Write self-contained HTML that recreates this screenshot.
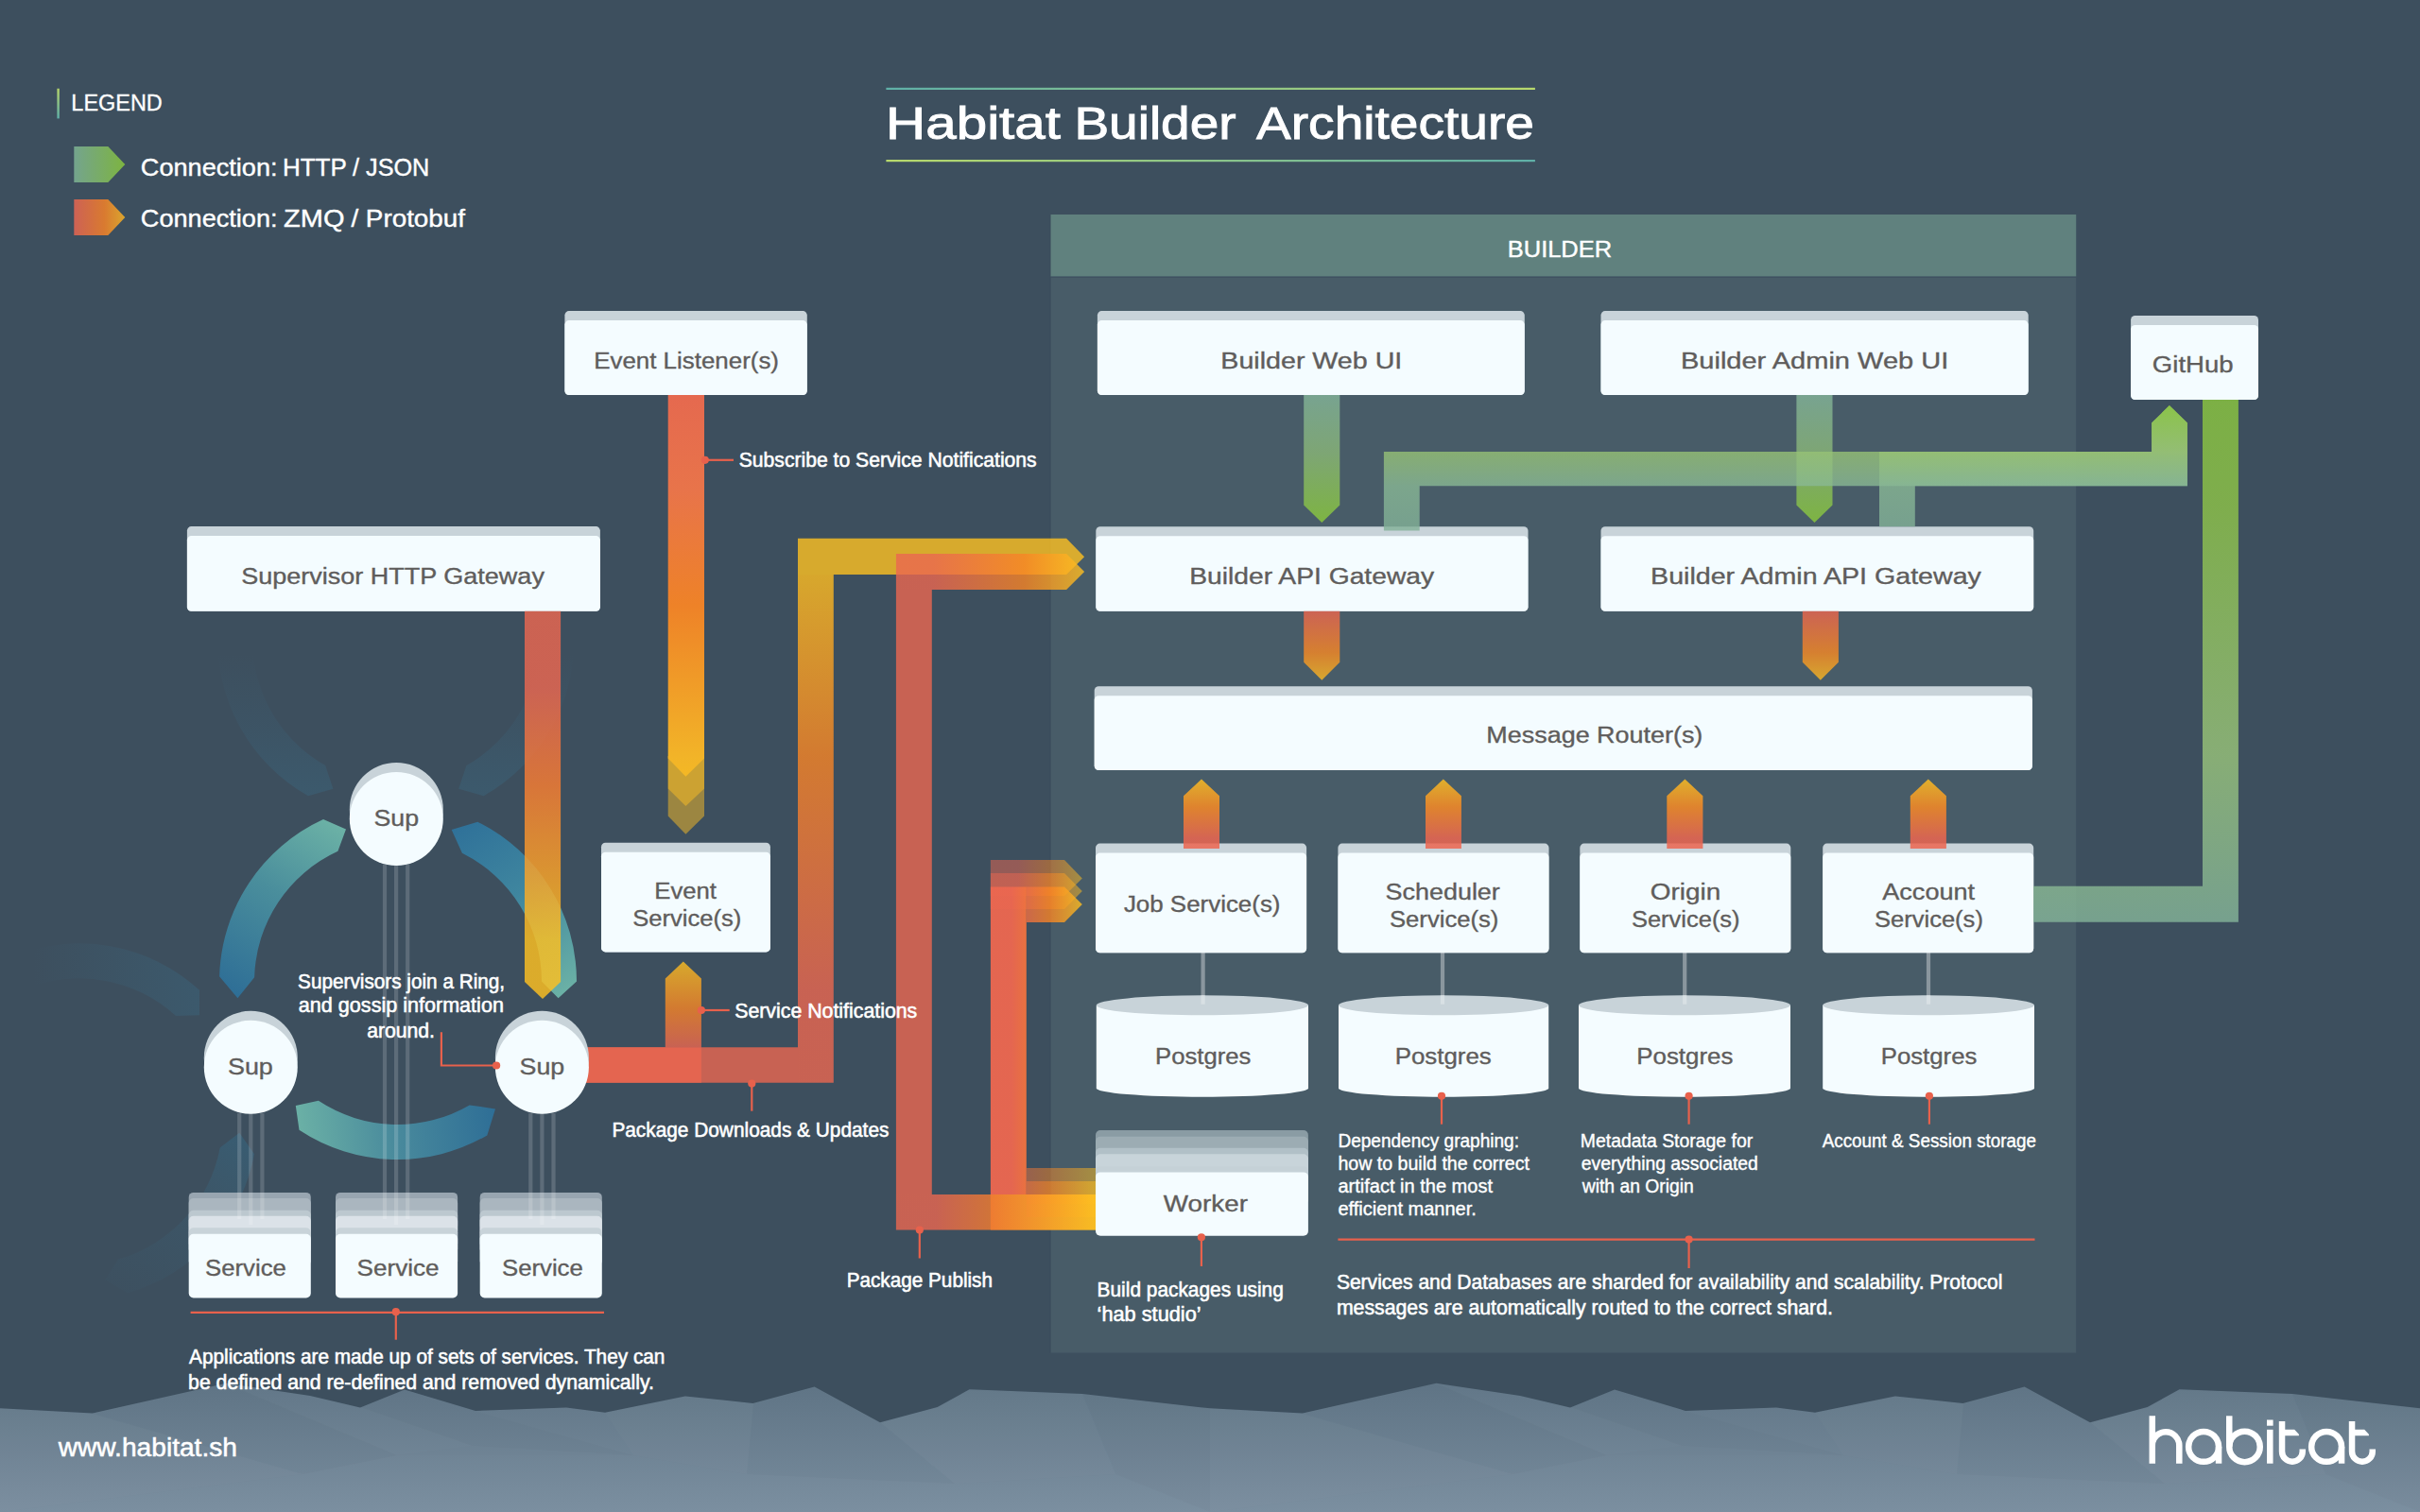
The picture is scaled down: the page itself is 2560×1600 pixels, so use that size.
<!DOCTYPE html>
<html><head><meta charset="utf-8"><title>Habitat Builder Architecture</title>
<style>html,body{margin:0;padding:0;background:#3d4f5e;}svg{display:block}</style></head>
<body>
<svg width="2560" height="1600" viewBox="0 0 2560 1600" font-family="Liberation Sans, sans-serif">
<defs>
<linearGradient id="gLegG" gradientUnits="userSpaceOnUse" x1="78" y1="0" x2="132" y2="0"><stop offset="0" stop-color="#74a48e"/><stop offset="1" stop-color="#7db441"/></linearGradient>
<linearGradient id="gLegO" gradientUnits="userSpaceOnUse" x1="78" y1="0" x2="132" y2="0"><stop offset="0" stop-color="#cd6155"/><stop offset="0.6" stop-color="#d97a30"/><stop offset="1" stop-color="#dba52e"/></linearGradient>
<linearGradient id="gBar" gradientUnits="userSpaceOnUse" x1="0" y1="94" x2="0" y2="125"><stop offset="0" stop-color="#b5d56a"/><stop offset="1" stop-color="#5fb0a8"/></linearGradient>
<linearGradient id="gT1" gradientUnits="userSpaceOnUse" x1="937" y1="0" x2="1624" y2="0"><stop offset="0" stop-color="#5fb0a8"/><stop offset="1" stop-color="#b8d96c"/></linearGradient>
<linearGradient id="gT2" gradientUnits="userSpaceOnUse" x1="937" y1="0" x2="1624" y2="0"><stop offset="0" stop-color="#b8d96c"/><stop offset="1" stop-color="#5fb0a8"/></linearGradient>
<linearGradient id="gMtn" gradientUnits="userSpaceOnUse" x1="0" y1="1465" x2="0" y2="1600"><stop offset="0" stop-color="#617687"/><stop offset="1" stop-color="#7a8e9f"/></linearGradient>
<linearGradient id="gA" gradientUnits="userSpaceOnUse" x1="0" y1="418" x2="0" y2="822"><stop offset="0" stop-color="#e5694f"/><stop offset="0.25" stop-color="#e8744a"/><stop offset="0.55" stop-color="#ee8228"/><stop offset="0.95" stop-color="#f2b428"/><stop offset="1" stop-color="#f4b824"/></linearGradient>
<linearGradient id="gB" gradientUnits="userSpaceOnUse" x1="0" y1="647" x2="0" y2="1057"><stop offset="0" stop-color="#eb6750"/><stop offset="0.2" stop-color="#eb6750"/><stop offset="0.45" stop-color="#fa7e31"/><stop offset="0.85" stop-color="#fec020"/><stop offset="1" stop-color="#fec020"/></linearGradient>
<linearGradient id="gCv" gradientUnits="userSpaceOnUse" x1="0" y1="1146" x2="0" y2="570"><stop offset="0" stop-color="#eb6750"/><stop offset="0.17" stop-color="#eb6750"/><stop offset="0.6" stop-color="#f88525"/><stop offset="0.95" stop-color="#fec020"/><stop offset="1" stop-color="#fec020"/></linearGradient>
<linearGradient id="gD" gradientUnits="userSpaceOnUse" x1="0" y1="1108" x2="0" y2="1017"><stop offset="0" stop-color="#eb6750"/><stop offset="0.45" stop-color="#f88525"/><stop offset="1" stop-color="#fec020"/></linearGradient>
<linearGradient id="gEb" gradientUnits="userSpaceOnUse" x1="948" y1="0" x2="1159" y2="0"><stop offset="0" stop-color="#eb6750"/><stop offset="0.2" stop-color="#eb6750"/><stop offset="0.47" stop-color="#f57d30"/><stop offset="1" stop-color="#fec020"/></linearGradient>
<linearGradient id="gF" gradientUnits="userSpaceOnUse" x1="1048" y1="0" x2="1159" y2="0"><stop offset="0" stop-color="#eb6750"/><stop offset="0.2" stop-color="#eb6750"/><stop offset="0.55" stop-color="#f88525"/><stop offset="1" stop-color="#fec020"/></linearGradient>
<linearGradient id="gEt" gradientUnits="userSpaceOnUse" x1="948" y1="0" x2="1147" y2="0"><stop offset="0" stop-color="#eb6750"/><stop offset="0.2" stop-color="#eb6750"/><stop offset="0.68" stop-color="#f88525"/><stop offset="1" stop-color="#fec020"/></linearGradient>
<linearGradient id="gFt" gradientUnits="userSpaceOnUse" x1="1048" y1="0" x2="1145" y2="0"><stop offset="0" stop-color="#eb6750"/><stop offset="0.3" stop-color="#eb6750"/><stop offset="0.65" stop-color="#f88525"/><stop offset="1" stop-color="#fec020"/></linearGradient>
<linearGradient id="gG" gradientUnits="userSpaceOnUse" x1="0" y1="418" x2="0" y2="553"><stop offset="0" stop-color="#84b59a"/><stop offset="0.45" stop-color="#8bb878"/><stop offset="1" stop-color="#8bca39"/></linearGradient>
<linearGradient id="gI" gradientUnits="userSpaceOnUse" x1="0" y1="429" x2="0" y2="561"><stop offset="0" stop-color="#8ec849"/><stop offset="0.37" stop-color="#97c275"/><stop offset="0.645" stop-color="#89b895"/><stop offset="1" stop-color="#82b198"/></linearGradient>
<linearGradient id="gK" gradientUnits="userSpaceOnUse" x1="0" y1="423" x2="0" y2="976"><stop offset="0" stop-color="#8cc83f"/><stop offset="0.2" stop-color="#8fc548"/><stop offset="0.68" stop-color="#9ac57b"/><stop offset="1" stop-color="#85b59a"/></linearGradient>
<linearGradient id="gL" gradientUnits="userSpaceOnUse" x1="0" y1="647" x2="0" y2="720"><stop offset="0" stop-color="#ed654f"/><stop offset="0.6" stop-color="#f98922"/><stop offset="1" stop-color="#fbbb22"/></linearGradient>
<linearGradient id="gN" gradientUnits="userSpaceOnUse" x1="0" y1="825" x2="0" y2="898"><stop offset="0" stop-color="#fbbd22"/><stop offset="0.4" stop-color="#f98a24"/><stop offset="0.85" stop-color="#ed6650"/><stop offset="1" stop-color="#ed6650"/></linearGradient>
<linearGradient id="gRL" gradientUnits="userSpaceOnUse" x1="366" y1="877" x2="252" y2="1056"><stop offset="0" stop-color="#6cb2a6"/><stop offset="0.45" stop-color="#4a8e9c"/><stop offset="1" stop-color="#2e6e96"/></linearGradient>
<linearGradient id="gRR" gradientUnits="userSpaceOnUse" x1="477" y1="878" x2="592" y2="1057"><stop offset="0" stop-color="#2f7199"/><stop offset="0.45" stop-color="#3f869f"/><stop offset="1" stop-color="#6cb2a6"/></linearGradient>
<linearGradient id="gRB" gradientUnits="userSpaceOnUse" x1="312" y1="1200" x2="525" y2="1175"><stop offset="0" stop-color="#6cb2a6"/><stop offset="0.5" stop-color="#48899c"/><stop offset="1" stop-color="#2e6e96"/></linearGradient>
<linearGradient id="gGh1" gradientUnits="userSpaceOnUse" x1="0" y1="692" x2="0" y2="845"><stop offset="0" stop-color="#3a6982" stop-opacity="0"/><stop offset="0.5" stop-color="#3a6982" stop-opacity="0.18"/><stop offset="1" stop-color="#3a6982" stop-opacity="0.42"/></linearGradient>
<linearGradient id="gGh2" gradientUnits="userSpaceOnUse" x1="35" y1="0" x2="212" y2="0"><stop offset="0" stop-color="#3a6982" stop-opacity="0"/><stop offset="0.5" stop-color="#3a6982" stop-opacity="0.2"/><stop offset="1" stop-color="#3a6982" stop-opacity="0.4"/></linearGradient>
<linearGradient id="gGh3" gradientUnits="userSpaceOnUse" x1="255" y1="1200" x2="130" y2="1370"><stop offset="0" stop-color="#346a86" stop-opacity="0.5"/><stop offset="0.4" stop-color="#3a6982" stop-opacity="0.25"/><stop offset="1" stop-color="#3a6982" stop-opacity="0.05"/></linearGradient>
</defs>
<rect width="2560" height="1600" fill="#3d4f5e"/>
<path d="M0,1600 L0.0,1490.3 L97.9,1495.6 L239.4,1463.8 L328.0,1477.0 L381.0,1489.4 L428.0,1470.5 L503.0,1493.0 L599.0,1489.6 L640.0,1494.8 L724.8,1477.4 L796.5,1485.0 L861.6,1467.6 L931.0,1505.3 L991.6,1489.0 L1025.5,1470.3 L1145.0,1475.0 L1280.0,1490.3 L1377.9,1495.6 L1519.4,1463.8 L1608.0,1477.0 L1661.0,1489.4 L1708.0,1470.5 L1783.0,1493.0 L1879.0,1489.6 L1920.0,1494.8 L2004.8,1477.4 L2076.5,1485.0 L2141.6,1467.6 L2211.0,1505.3 L2271.6,1489.0 L2305.5,1470.3 L2425.0,1475.0 L2560.0,1490.3 L2560,1600 Z" fill="url(#gMtn)"/>
<polygon points="0,1490 98,1496 320,1560 0,1600" fill="#fff" fill-opacity="0.014"/>
<polygon points="1280,1490 1378,1496 1600,1560 1280,1600" fill="#fff" fill-opacity="0.014"/>
<polygon points="98,1496 239,1464 420,1540 320,1560" fill="#000" fill-opacity="0.012"/>
<polygon points="1378,1496 1519,1464 1700,1540 1600,1560" fill="#000" fill-opacity="0.012"/>
<polygon points="239,1464 328,1477 381,1489 500,1530 420,1540" fill="#fff" fill-opacity="0.012"/>
<polygon points="1519,1464 1608,1477 1661,1489 1780,1530 1700,1540" fill="#fff" fill-opacity="0.012"/>
<polygon points="428,1470 503,1493 670,1540 500,1530 381,1489" fill="#000" fill-opacity="0.010"/>
<polygon points="1708,1470 1783,1493 1950,1540 1780,1530 1661,1489" fill="#000" fill-opacity="0.010"/>
<polygon points="640,1495 725,1477 797,1485 790,1560 670,1540" fill="#fff" fill-opacity="0.016"/>
<polygon points="1920,1495 2005,1477 2077,1485 2070,1560 1950,1540" fill="#fff" fill-opacity="0.016"/>
<polygon points="797,1485 862,1468 931,1505 1010,1570 790,1560" fill="#000" fill-opacity="0.012"/>
<polygon points="2077,1485 2142,1468 2211,1505 2290,1570 2070,1560" fill="#000" fill-opacity="0.012"/>
<polygon points="931,1505 992,1489 1026,1470 1145,1475 1180,1560 1010,1570" fill="#fff" fill-opacity="0.014"/>
<polygon points="2211,1505 2272,1489 2306,1470 2425,1475 2460,1560 2290,1570" fill="#fff" fill-opacity="0.014"/>
<polygon points="1145,1475 1280,1490 1280,1600 1180,1560" fill="#000" fill-opacity="0.008"/>
<polygon points="2425,1475 2560,1490 2560,1600 2460,1560" fill="#000" fill-opacity="0.008"/>
<polygon points="0,1600 320,1560 420,1540 670,1540 790,1560 1010,1570 1180,1560 1280,1600" fill="#fff" fill-opacity="0.012"/>
<polygon points="1280,1600 1600,1560 1700,1540 1950,1540 2070,1560 2290,1570 2460,1560 2560,1600" fill="#fff" fill-opacity="0.012"/>
<rect x="1111.4" y="227" width="1084.8" height="1204.5" fill="#485c68"/>
<rect x="1111.4" y="227" width="1084.8" height="65.6" fill="#60817e"/>
<rect x="1111.4" y="292.6" width="1084.8" height="1.3" fill="#3c4f5e" fill-opacity="0.85"/>
<rect x="1110.6" y="227" width="0.9" height="1204.5" fill="#38495a" fill-opacity="0.5"/>
<path d="M326.0,842.3 A188.5,188.5 0 0 1 230.6,667.7 L251.2,649.6 L267.5,669.7 A151.5,151.5 0 0 0 344.2,810.1 L352.4,834.7 Z" fill="url(#gGh1)" fill-opacity="1"/>
<path d="M607.0,667.7 A188.5,188.5 0 0 1 511.6,842.3 L485.2,834.7 L493.4,810.1 A151.5,151.5 0 0 0 570.1,669.7 L586.4,649.6 Z" fill="url(#gGh1)" fill-opacity="1"/>
<path d="M15.5,1011.1 A188.5,188.5 0 0 1 211.0,1047.8 L211.0,1074.2 L186.1,1075.1 A151.5,151.5 0 0 0 28.9,1045.6 L4.7,1036.3 Z" fill="url(#gGh2)" fill-opacity="1"/>
<path d="M269.0,1221.2 A188.5,188.5 0 0 1 135.0,1368.2 L111.2,1354.6 L125.0,1332.6 A151.5,151.5 0 0 0 232.7,1214.4 L253.3,1198.7 Z" fill="url(#gGh3)" fill-opacity="1"/>
<path d="M232.1,1033.2 A188.5,188.5 0 0 1 342.0,867.1 L366.0,877.5 L357.4,900.8 A151.5,151.5 0 0 0 269.1,1034.3 L251.4,1056.3 Z" fill="url(#gRL)" fill-opacity="1"/>
<path d="M505.3,869.7 A188.5,188.5 0 0 1 610.0,1038.5 L590.6,1056.3 L573.0,1038.5 A151.5,151.5 0 0 0 488.9,902.8 L477.7,878.1 Z" fill="url(#gRR)" fill-opacity="1"/>
<path d="M515.3,1201.4 A188.5,188.5 0 0 1 316.5,1195.7 L312.8,1170.1 L336.9,1164.8 A151.5,151.5 0 0 0 496.7,1169.4 L524.0,1173.4 Z" fill="url(#gRB)" fill-opacity="1"/>
<rect x="404.9" y="915" width="4.2" height="375" fill="#fff" fill-opacity="0.17"/>
<rect x="417.0" y="915" width="4.2" height="381" fill="#fff" fill-opacity="0.17"/>
<rect x="429.1" y="915" width="4.2" height="375" fill="#fff" fill-opacity="0.17"/>
<rect x="251.1" y="1178" width="4.2" height="112" fill="#fff" fill-opacity="0.17"/>
<rect x="263.2" y="1178" width="4.2" height="118" fill="#fff" fill-opacity="0.17"/>
<rect x="275.3" y="1178" width="4.2" height="112" fill="#fff" fill-opacity="0.17"/>
<rect x="559.2" y="1178" width="4.2" height="112" fill="#fff" fill-opacity="0.17"/>
<rect x="571.3" y="1178" width="4.2" height="118" fill="#fff" fill-opacity="0.17"/>
<rect x="583.4" y="1178" width="4.2" height="112" fill="#fff" fill-opacity="0.17"/>
<rect x="597.4" y="329.1" width="256.4" height="88.9" rx="4.5" fill="#c8d3d9" fill-opacity="1"/>
<rect x="597.4" y="339.1" width="256.4" height="78.9" rx="4.5" fill="#f4fcff" fill-opacity="1"/>
<rect x="1160.9" y="329.1" width="451.9" height="88.9" rx="4.5" fill="#c8d3d9" fill-opacity="1"/>
<rect x="1160.9" y="339.1" width="451.9" height="78.9" rx="4.5" fill="#f4fcff" fill-opacity="1"/>
<rect x="1693.5" y="329.1" width="452.2" height="88.9" rx="4.5" fill="#c8d3d9" fill-opacity="1"/>
<rect x="1693.5" y="339.1" width="452.2" height="78.9" rx="4.5" fill="#f4fcff" fill-opacity="1"/>
<rect x="2254.1" y="333.9" width="134.9" height="89.1" rx="4.5" fill="#c8d3d9" fill-opacity="1"/>
<rect x="2254.1" y="343.9" width="134.9" height="79.1" rx="4.5" fill="#f4fcff" fill-opacity="1"/>
<rect x="197.9" y="557.1" width="437.0" height="89.7" rx="4.5" fill="#c8d3d9" fill-opacity="1"/>
<rect x="197.9" y="567.1" width="437.0" height="79.7" rx="4.5" fill="#f4fcff" fill-opacity="1"/>
<rect x="1159.3" y="557.3" width="457.2" height="89.5" rx="4.5" fill="#c8d3d9" fill-opacity="1"/>
<rect x="1159.3" y="567.3" width="457.2" height="79.5" rx="4.5" fill="#f4fcff" fill-opacity="1"/>
<rect x="1693.5" y="557.3" width="457.7" height="89.5" rx="4.5" fill="#c8d3d9" fill-opacity="1"/>
<rect x="1693.5" y="567.3" width="457.7" height="79.5" rx="4.5" fill="#f4fcff" fill-opacity="1"/>
<rect x="1157.7" y="726.2" width="992.2" height="88.9" rx="4.5" fill="#c8d3d9" fill-opacity="1"/>
<rect x="1157.7" y="736.2" width="992.2" height="78.9" rx="4.5" fill="#f4fcff" fill-opacity="1"/>
<rect x="636" y="891.8" width="178.9" height="115.6" rx="4.5" fill="#c8d3d9" fill-opacity="1"/>
<rect x="636" y="901.8" width="178.9" height="105.6" rx="4.5" fill="#f4fcff" fill-opacity="1"/>
<rect x="1159" y="892.6" width="223.1" height="115.6" rx="4.5" fill="#c8d3d9" fill-opacity="1"/>
<rect x="1159" y="902.6" width="223.1" height="105.6" rx="4.5" fill="#f4fcff" fill-opacity="1"/>
<rect x="1415.4" y="892.6" width="223.1" height="115.6" rx="4.5" fill="#c8d3d9" fill-opacity="1"/>
<rect x="1415.4" y="902.6" width="223.1" height="105.6" rx="4.5" fill="#f4fcff" fill-opacity="1"/>
<rect x="1671.3" y="892.6" width="223.0" height="115.6" rx="4.5" fill="#c8d3d9" fill-opacity="1"/>
<rect x="1671.3" y="902.6" width="223.0" height="105.6" rx="4.5" fill="#f4fcff" fill-opacity="1"/>
<rect x="1928.2" y="892.6" width="223.0" height="115.6" rx="4.5" fill="#c8d3d9" fill-opacity="1"/>
<rect x="1928.2" y="902.6" width="223.0" height="105.6" rx="4.5" fill="#f4fcff" fill-opacity="1"/>
<rect x="1270.5" y="1008" width="4.2" height="55" fill="#fff" fill-opacity="0.36"/>
<rect x="1523.9" y="1008" width="4.2" height="55" fill="#fff" fill-opacity="0.36"/>
<rect x="1780.1000000000001" y="1008" width="4.2" height="55" fill="#fff" fill-opacity="0.36"/>
<rect x="2037.9" y="1008" width="4.2" height="55" fill="#fff" fill-opacity="0.36"/>
<path d="M1159.8,1063.8 V1151.5 A112.10000000000002,9.3 0 0 0 1384,1151.5 V1063.8 Z" fill="#f4fcff"/>
<ellipse cx="1271.9" cy="1063.8" rx="112.10000000000002" ry="10.5" fill="#c8d3d9"/>
<path d="M1416,1063.8 V1151.5 A111.10000000000002,9.3 0 0 0 1638.2,1151.5 V1063.8 Z" fill="#f4fcff"/>
<ellipse cx="1527.1" cy="1063.8" rx="111.10000000000002" ry="10.5" fill="#c8d3d9"/>
<path d="M1670,1063.8 V1151.5 A112.0,9.3 0 0 0 1894,1151.5 V1063.8 Z" fill="#f4fcff"/>
<ellipse cx="1782.0" cy="1063.8" rx="112.0" ry="10.5" fill="#c8d3d9"/>
<path d="M1928.2,1063.8 V1151.5 A111.89999999999998,9.3 0 0 0 2152,1151.5 V1063.8 Z" fill="#f4fcff"/>
<ellipse cx="2040.1" cy="1063.8" rx="111.89999999999998" ry="10.5" fill="#c8d3d9"/>
<rect x="1270.5" y="1053" width="4.2" height="9.7" fill="#fff" fill-opacity="0.30"/>
<rect x="1523.9" y="1053" width="4.2" height="9.7" fill="#fff" fill-opacity="0.30"/>
<rect x="1780.1000000000001" y="1053" width="4.2" height="9.7" fill="#fff" fill-opacity="0.30"/>
<rect x="2037.9" y="1053" width="4.2" height="9.7" fill="#fff" fill-opacity="0.30"/>
<rect x="199.7" y="1261.9" width="129.1" height="40" rx="5" fill="#98a5b0"/>
<rect x="199.7" y="1268" width="129.1" height="40" rx="5" fill="#aab6bf"/>
<rect x="199.7" y="1280.7" width="129.1" height="40" rx="5" fill="#bcc8cf"/>
<rect x="199.7" y="1286.8" width="129.1" height="40" rx="5" fill="#dbe2e8"/>
<rect x="199.7" y="1299.2" width="129.1" height="40" rx="5" fill="#c8d3d9"/>
<rect x="199.7" y="1305.8" width="129.1" height="67.7" rx="5" fill="#f4fcff"/>
<rect x="355" y="1261.9" width="129.1" height="40" rx="5" fill="#98a5b0"/>
<rect x="355" y="1268" width="129.1" height="40" rx="5" fill="#aab6bf"/>
<rect x="355" y="1280.7" width="129.1" height="40" rx="5" fill="#bcc8cf"/>
<rect x="355" y="1286.8" width="129.1" height="40" rx="5" fill="#dbe2e8"/>
<rect x="355" y="1299.2" width="129.1" height="40" rx="5" fill="#c8d3d9"/>
<rect x="355" y="1305.8" width="129.1" height="67.7" rx="5" fill="#f4fcff"/>
<rect x="507.7" y="1261.9" width="129.1" height="40" rx="5" fill="#98a5b0"/>
<rect x="507.7" y="1268" width="129.1" height="40" rx="5" fill="#aab6bf"/>
<rect x="507.7" y="1280.7" width="129.1" height="40" rx="5" fill="#bcc8cf"/>
<rect x="507.7" y="1286.8" width="129.1" height="40" rx="5" fill="#dbe2e8"/>
<rect x="507.7" y="1299.2" width="129.1" height="40" rx="5" fill="#c8d3d9"/>
<rect x="507.7" y="1305.8" width="129.1" height="67.7" rx="5" fill="#f4fcff"/>
<rect x="1159" y="1196" width="224.9" height="40" rx="5" fill="#8a9ca4"/>
<rect x="1159" y="1202.8" width="224.9" height="40" rx="5" fill="#9cacb3"/>
<rect x="1159" y="1214.7" width="224.9" height="40" rx="5" fill="#b1c0c7"/>
<rect x="1159" y="1221.3" width="224.9" height="40" rx="5" fill="#c8d4da"/>
<rect x="1159" y="1234.2" width="224.9" height="40" rx="5" fill="#c5d1d7"/>
<rect x="1159" y="1240.4" width="224.9" height="67.4" rx="5" fill="#f4fcff"/>
<rect x="404.9" y="1262" width="4.2" height="28" fill="#fff" fill-opacity="0.17"/>
<rect x="417.0" y="1262" width="4.2" height="34" fill="#fff" fill-opacity="0.17"/>
<rect x="429.1" y="1262" width="4.2" height="28" fill="#fff" fill-opacity="0.17"/>
<rect x="251.1" y="1262" width="4.2" height="28" fill="#fff" fill-opacity="0.17"/>
<rect x="263.2" y="1262" width="4.2" height="34" fill="#fff" fill-opacity="0.17"/>
<rect x="275.3" y="1262" width="4.2" height="28" fill="#fff" fill-opacity="0.17"/>
<rect x="559.2" y="1262" width="4.2" height="28" fill="#fff" fill-opacity="0.17"/>
<rect x="571.3" y="1262" width="4.2" height="34" fill="#fff" fill-opacity="0.17"/>
<rect x="583.4" y="1262" width="4.2" height="28" fill="#fff" fill-opacity="0.17"/>
<polygon points="706.7,800.0 745.0,800.0 745.0,863.5 725.4,882.8 706.7,863.5" fill="#fcbe23" fill-opacity="0.5"/>
<polygon points="706.7,800.0 745.0,800.0 745.0,834.4 725.4,852.9 706.7,834.4" fill="#fcbe23" fill-opacity="0.5"/>
<polygon points="706.7,418.0 745.0,418.0 745.0,802.6 725.4,821.7 706.7,802.6" fill="url(#gA)" fill-opacity="1"/>
<polygon points="555.0,646.8 593.1,646.8 593.1,1038.9 574.0,1057.1 555.0,1038.9" fill="url(#gB)" fill-opacity="0.82"/>
<polygon points="620.0,1108.2 844.0,1108.2 844.0,1145.8 620.0,1145.8" fill="#eb6750" fill-opacity="0.8"/>
<polygon points="844.0,1145.8 881.8,1145.8 881.8,607.9 844.0,607.9" fill="url(#gCv)" fill-opacity="0.8"/>
<polygon points="844.0,569.8 1128.1,569.8 1147.1,589.2 1128.1,607.9 844.0,607.9" fill="#fec020" fill-opacity="0.8"/>
<polygon points="620.0,1108.2 741.9,1108.2 741.9,1145.8 620.0,1145.8" fill="#eb6750" fill-opacity="0.8"/>
<polygon points="703.8,1108.2 703.8,1035.4 722.8,1017.5 741.9,1035.4 741.9,1108.2" fill="url(#gD)" fill-opacity="0.8"/>
<polygon points="947.9,1264.0 1159.0,1264.0 1159.0,1301.6 947.9,1301.6" fill="url(#gEb)" fill-opacity="0.8"/>
<polygon points="947.9,1264.0 985.8,1264.0 985.8,624.1 947.9,624.1" fill="#eb6750" fill-opacity="0.8"/>
<polygon points="947.9,586.0 1128.1,586.0 1147.1,605.0 1128.1,624.1 947.9,624.1" fill="url(#gEt)" fill-opacity="0.8"/>
<polygon points="1085.8,1236.0 1159.0,1236.0 1159.0,1274.0 1085.8,1274.0" fill="url(#gF)" fill-opacity="0.5"/>
<polygon points="1085.8,1250.0 1159.0,1250.0 1159.0,1288.0 1085.8,1288.0" fill="url(#gF)" fill-opacity="0.5"/>
<polygon points="1047.9,1264.0 1159.0,1264.0 1159.0,1301.6 1047.9,1301.6" fill="url(#gEb)" fill-opacity="0.8"/>
<polygon points="1047.9,910.0 1126.0,910.0 1144.8,929.4 1126.0,948.0 1047.9,948.0" fill="url(#gFt)" fill-opacity="0.5"/>
<polygon points="1047.9,924.0 1126.0,924.0 1144.8,943.1 1126.0,962.0 1047.9,962.0" fill="url(#gFt)" fill-opacity="0.5"/>
<polygon points="1085.8,938.4 1126.0,938.4 1144.8,957.1 1126.0,975.9 1085.8,975.9" fill="url(#gFt)" fill-opacity="0.8"/>
<polygon points="1047.9,938.4 1085.8,938.4 1085.8,1264.0 1047.9,1264.0" fill="url(#gF)" fill-opacity="0.96"/>
<polygon points="1379.2,418.0 1417.3,418.0 1417.3,534.4 1398.3,552.9 1379.2,534.4" fill="url(#gG)" fill-opacity="0.8"/>
<polygon points="1900.4,418.0 1938.5,418.0 1938.5,534.4 1919.5,552.9 1900.4,534.4" fill="url(#gG)" fill-opacity="0.8"/>
<polygon points="1463.9,561.6 1463.9,478.0 2276.1,478.0 2276.1,447.6 2294.9,429.1 2313.9,447.6 2313.9,514.3 1501.7,514.3 1501.7,561.6" fill="url(#gI)" fill-opacity="0.8"/>
<polygon points="1988.0,557.3 1988.0,478.0 2276.1,478.0 2276.1,447.6 2294.9,429.1 2313.9,447.6 2313.9,514.3 2025.8,514.3 2025.8,557.3" fill="url(#gI)" fill-opacity="0.8"/>
<polygon points="2330.0,423.0 2367.9,423.0 2367.9,975.7 2151.2,975.7 2151.2,937.8 2330.0,937.8" fill="url(#gK)" fill-opacity="0.8"/>
<polygon points="1379.2,646.8 1417.3,646.8 1417.3,700.8 1398.3,719.8 1379.2,700.8" fill="url(#gL)" fill-opacity="0.8"/>
<polygon points="1906.8,646.8 1944.9,646.8 1944.9,700.8 1925.8,719.8 1906.8,700.8" fill="url(#gL)" fill-opacity="0.8"/>
<polygon points="1252.0,897.9 1252.0,842.3 1271.0,824.6 1290.0,842.3 1290.0,897.9" fill="url(#gN)" fill-opacity="0.85"/>
<polygon points="1508.0,897.9 1508.0,842.3 1526.8,824.6 1545.9,842.3 1545.9,897.9" fill="url(#gN)" fill-opacity="0.85"/>
<polygon points="1763.3,897.9 1763.3,842.3 1782.4,824.6 1801.4,842.3 1801.4,897.9" fill="url(#gN)" fill-opacity="0.85"/>
<polygon points="2020.8,897.9 2020.8,842.3 2039.8,824.6 2058.9,842.3 2058.9,897.9" fill="url(#gN)" fill-opacity="0.85"/>
<circle cx="419.3" cy="856.4" r="49.5" fill="#c8d3d9"/>
<circle cx="419.3" cy="866.4" r="49.5" fill="#f4fcff"/>
<circle cx="265.3" cy="1119.3" r="49.5" fill="#c8d3d9"/>
<circle cx="265.3" cy="1129.3" r="49.5" fill="#f4fcff"/>
<circle cx="573.4" cy="1119.3" r="49.5" fill="#c8d3d9"/>
<circle cx="573.4" cy="1129.3" r="49.5" fill="#f4fcff"/>
<circle cx="745.8" cy="486.8" r="4.1" fill="#e8614c"/>
<path d="M745.8,486.8 L776,486.8" stroke="#e8614c" stroke-width="2.2" fill="none"/>
<circle cx="741.9" cy="1069" r="4.1" fill="#e8614c"/>
<path d="M741.9,1069 L771.7,1069" stroke="#e8614c" stroke-width="2.2" fill="none"/>
<circle cx="795.3" cy="1146.6" r="4.1" fill="#e8614c"/>
<path d="M795.3,1146.6 L795.3,1175.7" stroke="#e8614c" stroke-width="2.2" fill="none"/>
<circle cx="972.8" cy="1301.6" r="4.1" fill="#e8614c"/>
<path d="M972.8,1301.6 L972.8,1331.5" stroke="#e8614c" stroke-width="2.2" fill="none"/>
<circle cx="1270.9" cy="1309.3" r="4.1" fill="#e8614c"/>
<path d="M1270.9,1309.3 L1270.9,1339.9" stroke="#e8614c" stroke-width="2.2" fill="none"/>
<circle cx="525.1" cy="1127.5" r="4.1" fill="#e8614c"/>
<path d="M525.1,1127.5 H466.9 V1092.3" stroke="#e8614c" stroke-width="2.2" fill="none"/>
<circle cx="1525" cy="1159.8" r="4.1" fill="#e8614c"/>
<path d="M1525,1159.8 L1525,1189.7" stroke="#e8614c" stroke-width="2.2" fill="none"/>
<circle cx="1786.6" cy="1159.8" r="4.1" fill="#e8614c"/>
<path d="M1786.6,1159.8 L1786.6,1189.7" stroke="#e8614c" stroke-width="2.2" fill="none"/>
<circle cx="2040.9" cy="1159.8" r="4.1" fill="#e8614c"/>
<path d="M2040.9,1159.8 L2040.9,1189.7" stroke="#e8614c" stroke-width="2.2" fill="none"/>
<path d="M201.6,1388.9 L639,1388.9" stroke="#e8614c" stroke-width="2.4" fill="none"/>
<circle cx="418.8" cy="1388.2" r="4.1" fill="#e8614c"/>
<path d="M418.8,1388.9 L418.8,1417.7" stroke="#e8614c" stroke-width="2.2" fill="none"/>
<path d="M1415.4,1311.6 L2152.5,1311.6" stroke="#e8614c" stroke-width="2.4" fill="none"/>
<circle cx="1786.6" cy="1311.6" r="4.1" fill="#e8614c"/>
<path d="M1786.6,1311.6 L1786.6,1342" stroke="#e8614c" stroke-width="2.2" fill="none"/>
<rect x="60.4" y="93.7" width="2.4" height="31.7" fill="url(#gBar)"/>
<polygon points="78.3,155 114.3,155 132.3,173.9 114.3,192.9 78.3,192.9" fill="url(#gLegG)"/>
<polygon points="78.3,211 114.3,211 132.3,230 114.3,249 78.3,249" fill="url(#gLegO)"/>
<rect x="937.4" y="92.8" width="686.5" height="2.2" fill="url(#gT1)"/>
<rect x="937.4" y="169" width="686.5" height="2.2" fill="url(#gT2)"/>
<text x="75.35" y="116.8" font-size="23" fill="#fff" stroke="#fff" stroke-width="0.3" textLength="96.47" lengthAdjust="spacingAndGlyphs">LEGEND</text>
<text x="148.87" y="186.2" font-size="26" fill="#fff" stroke="#fff" stroke-width="0.4" textLength="144.69" lengthAdjust="spacingAndGlyphs">Connection:</text>
<text x="298.92" y="186.2" font-size="26" fill="#fff" stroke="#fff" stroke-width="0.4" textLength="67.90" lengthAdjust="spacingAndGlyphs">HTTP</text>
<text x="373.00" y="186.2" font-size="26" fill="#fff" stroke="#fff" stroke-width="0.4" textLength="81.34" lengthAdjust="spacingAndGlyphs">/ JSON</text>
<text x="148.87" y="240.2" font-size="26" fill="#fff" stroke="#fff" stroke-width="0.4" textLength="144.69" lengthAdjust="spacingAndGlyphs">Connection:</text>
<text x="300.07" y="240.2" font-size="26" fill="#fff" stroke="#fff" stroke-width="0.4" textLength="64.36" lengthAdjust="spacingAndGlyphs">ZMQ</text>
<text x="371.40" y="240.2" font-size="26" fill="#fff" stroke="#fff" stroke-width="0.4" textLength="120.62" lengthAdjust="spacingAndGlyphs">/ Protobuf</text>
<text x="937.09" y="146.8" font-size="48.5" fill="#fff" stroke="#fff" stroke-width="0.9" textLength="184.91" lengthAdjust="spacingAndGlyphs">Habitat</text>
<text x="1136.41" y="146.8" font-size="48.5" fill="#fff" stroke="#fff" stroke-width="0.9" textLength="171.19" lengthAdjust="spacingAndGlyphs">Builder</text>
<text x="1329.00" y="146.8" font-size="48.5" fill="#fff" stroke="#fff" stroke-width="0.9" textLength="293.92" lengthAdjust="spacingAndGlyphs">Architecture</text>
<text x="1594.75" y="271.8" font-size="23" fill="#fff" stroke="#fff" stroke-width="0.4" textLength="110.39" lengthAdjust="spacingAndGlyphs">BUILDER</text>
<text x="628.18" y="389.5" font-size="23.3" fill="#5f5d5c" stroke="#5f5d5c" stroke-width="0.35" textLength="195.83" lengthAdjust="spacingAndGlyphs">Event Listener(s)</text>
<text x="1291.36" y="389.5" font-size="23.3" fill="#5f5d5c" stroke="#5f5d5c" stroke-width="0.35" textLength="191.89" lengthAdjust="spacingAndGlyphs">Builder Web UI</text>
<text x="1777.97" y="389.5" font-size="23.3" fill="#5f5d5c" stroke="#5f5d5c" stroke-width="0.35" textLength="283.26" lengthAdjust="spacingAndGlyphs">Builder Admin Web UI</text>
<text x="2276.86" y="394.0" font-size="23.3" fill="#5f5d5c" stroke="#5f5d5c" stroke-width="0.35" textLength="85.76" lengthAdjust="spacingAndGlyphs">GitHub</text>
<text x="255.19" y="618.0" font-size="23.3" fill="#5f5d5c" stroke="#5f5d5c" stroke-width="0.35" textLength="320.71" lengthAdjust="spacingAndGlyphs">Supervisor HTTP Gateway</text>
<text x="1258.19" y="618.0" font-size="23.3" fill="#5f5d5c" stroke="#5f5d5c" stroke-width="0.35" textLength="258.91" lengthAdjust="spacingAndGlyphs">Builder API Gateway</text>
<text x="1746.09" y="618.0" font-size="23.3" fill="#5f5d5c" stroke="#5f5d5c" stroke-width="0.35" textLength="349.81" lengthAdjust="spacingAndGlyphs">Builder Admin API Gateway</text>
<text x="1572.37" y="785.7" font-size="23.3" fill="#5f5d5c" stroke="#5f5d5c" stroke-width="0.35" textLength="228.95" lengthAdjust="spacingAndGlyphs">Message Router(s)</text>
<text x="692.34" y="950.8" font-size="23.3" fill="#5f5d5c" stroke="#5f5d5c" stroke-width="0.35" textLength="65.66" lengthAdjust="spacingAndGlyphs">Event</text>
<text x="669.27" y="980.4" font-size="23.3" fill="#5f5d5c" stroke="#5f5d5c" stroke-width="0.35" textLength="115.05" lengthAdjust="spacingAndGlyphs">Service(s)</text>
<text x="1188.90" y="965.0" font-size="23.3" fill="#5f5d5c" stroke="#5f5d5c" stroke-width="0.35" textLength="165.62" lengthAdjust="spacingAndGlyphs">Job Service(s)</text>
<text x="1465.59" y="951.9" font-size="23.3" fill="#5f5d5c" stroke="#5f5d5c" stroke-width="0.35" textLength="121.22" lengthAdjust="spacingAndGlyphs">Scheduler</text>
<text x="1469.98" y="981.0" font-size="23.3" fill="#5f5d5c" stroke="#5f5d5c" stroke-width="0.35" textLength="115.45" lengthAdjust="spacingAndGlyphs">Service(s)</text>
<text x="1745.84" y="951.9" font-size="23.3" fill="#5f5d5c" stroke="#5f5d5c" stroke-width="0.35" textLength="74.43" lengthAdjust="spacingAndGlyphs">Origin</text>
<text x="1725.98" y="981.0" font-size="23.3" fill="#5f5d5c" stroke="#5f5d5c" stroke-width="0.35" textLength="114.63" lengthAdjust="spacingAndGlyphs">Service(s)</text>
<text x="1991.29" y="951.9" font-size="23.3" fill="#5f5d5c" stroke="#5f5d5c" stroke-width="0.35" textLength="97.81" lengthAdjust="spacingAndGlyphs">Account</text>
<text x="1982.98" y="981.0" font-size="23.3" fill="#5f5d5c" stroke="#5f5d5c" stroke-width="0.35" textLength="114.94" lengthAdjust="spacingAndGlyphs">Service(s)</text>
<text x="1222.06" y="1125.9" font-size="23.3" fill="#5f5d5c" stroke="#5f5d5c" stroke-width="0.35" textLength="101.25" lengthAdjust="spacingAndGlyphs">Postgres</text>
<text x="1475.76" y="1125.9" font-size="23.3" fill="#5f5d5c" stroke="#5f5d5c" stroke-width="0.35" textLength="101.95" lengthAdjust="spacingAndGlyphs">Postgres</text>
<text x="1731.35" y="1125.9" font-size="23.3" fill="#5f5d5c" stroke="#5f5d5c" stroke-width="0.35" textLength="101.97" lengthAdjust="spacingAndGlyphs">Postgres</text>
<text x="1989.76" y="1125.9" font-size="23.3" fill="#5f5d5c" stroke="#5f5d5c" stroke-width="0.35" textLength="101.56" lengthAdjust="spacingAndGlyphs">Postgres</text>
<text x="1230.79" y="1281.7" font-size="23.3" fill="#5f5d5c" stroke="#5f5d5c" stroke-width="0.35" textLength="89.12" lengthAdjust="spacingAndGlyphs">Worker</text>
<text x="395.53" y="873.5" font-size="23.3" fill="#5f5d5c" stroke="#5f5d5c" stroke-width="0.35" textLength="47.59" lengthAdjust="spacingAndGlyphs">Sup</text>
<text x="240.97" y="1136.5" font-size="23.3" fill="#5f5d5c" stroke="#5f5d5c" stroke-width="0.35" textLength="47.86" lengthAdjust="spacingAndGlyphs">Sup</text>
<text x="549.55" y="1136.5" font-size="23.3" fill="#5f5d5c" stroke="#5f5d5c" stroke-width="0.35" textLength="47.68" lengthAdjust="spacingAndGlyphs">Sup</text>
<text x="217.07" y="1349.7" font-size="23.3" fill="#5f5d5c" stroke="#5f5d5c" stroke-width="0.35" textLength="85.75" lengthAdjust="spacingAndGlyphs">Service</text>
<text x="377.56" y="1349.7" font-size="23.3" fill="#5f5d5c" stroke="#5f5d5c" stroke-width="0.35" textLength="86.97" lengthAdjust="spacingAndGlyphs">Service</text>
<text x="530.98" y="1349.7" font-size="23.3" fill="#5f5d5c" stroke="#5f5d5c" stroke-width="0.35" textLength="85.83" lengthAdjust="spacingAndGlyphs">Service</text>
<text x="781.70" y="493.9" font-size="21.5" fill="#fff" stroke="#fff" stroke-width="0.55" textLength="315.00" lengthAdjust="spacingAndGlyphs">Subscribe to Service Notifications</text>
<text x="777.20" y="1077.0" font-size="21.5" fill="#fff" stroke="#fff" stroke-width="0.55" textLength="193.10" lengthAdjust="spacingAndGlyphs">Service Notifications</text>
<text x="647.38" y="1203.2" font-size="21.5" fill="#fff" stroke="#fff" stroke-width="0.55" textLength="293.02" lengthAdjust="spacingAndGlyphs">Package Downloads &amp; Updates</text>
<text x="895.68" y="1361.6" font-size="21.5" fill="#fff" stroke="#fff" stroke-width="0.55" textLength="154.33" lengthAdjust="spacingAndGlyphs">Package Publish</text>
<text x="315.09" y="1045.5" font-size="21.5" fill="#fff" stroke="#fff" stroke-width="0.55" textLength="219.02" lengthAdjust="spacingAndGlyphs">Supervisors join a Ring,</text>
<text x="315.89" y="1071.4" font-size="21.5" fill="#fff" stroke="#fff" stroke-width="0.55" textLength="217.01" lengthAdjust="spacingAndGlyphs">and gossip information</text>
<text x="388.18" y="1098.1" font-size="21.5" fill="#fff" stroke="#fff" stroke-width="0.55" textLength="71.84" lengthAdjust="spacingAndGlyphs">around.</text>
<text x="200.10" y="1442.9" font-size="21.5" fill="#fff" stroke="#fff" stroke-width="0.55" textLength="503.30" lengthAdjust="spacingAndGlyphs">Applications are made up of sets of services. They can</text>
<text x="199.10" y="1469.8" font-size="21.5" fill="#fff" stroke="#fff" stroke-width="0.55" textLength="492.91" lengthAdjust="spacingAndGlyphs">be defined and re-defined and removed dynamically.</text>
<text x="61.70" y="1541.3" font-size="27" fill="#fff" stroke="#fff" stroke-width="0.5" textLength="189.30" lengthAdjust="spacingAndGlyphs">www.habitat.sh</text>
<text x="1160.59" y="1372.1" font-size="21.5" fill="#fff" stroke="#fff" stroke-width="0.55" textLength="197.23" lengthAdjust="spacingAndGlyphs">Build packages using</text>
<text x="1160.57" y="1397.9" font-size="21.5" fill="#fff" stroke="#fff" stroke-width="0.55" textLength="110.05" lengthAdjust="spacingAndGlyphs">‘hab studio’</text>
<text x="1415.39" y="1214.3" font-size="20" fill="#fff" stroke="#fff" stroke-width="0.4" textLength="191.62" lengthAdjust="spacingAndGlyphs">Dependency graphing:</text>
<text x="1415.39" y="1237.8" font-size="20" fill="#fff" stroke="#fff" stroke-width="0.4" textLength="202.61" lengthAdjust="spacingAndGlyphs">how to build the correct</text>
<text x="1415.39" y="1262.2" font-size="20" fill="#fff" stroke="#fff" stroke-width="0.4" textLength="163.61" lengthAdjust="spacingAndGlyphs">artifact in the most</text>
<text x="1415.39" y="1286.2" font-size="20" fill="#fff" stroke="#fff" stroke-width="0.4" textLength="146.44" lengthAdjust="spacingAndGlyphs">efficient manner.</text>
<text x="1671.79" y="1214.3" font-size="20" fill="#fff" stroke="#fff" stroke-width="0.4" textLength="182.41" lengthAdjust="spacingAndGlyphs">Metadata Storage for</text>
<text x="1672.79" y="1237.8" font-size="20" fill="#fff" stroke="#fff" stroke-width="0.4" textLength="187.01" lengthAdjust="spacingAndGlyphs">everything associated</text>
<text x="1673.79" y="1262.2" font-size="20" fill="#fff" stroke="#fff" stroke-width="0.4" textLength="118.02" lengthAdjust="spacingAndGlyphs">with an Origin</text>
<text x="1927.70" y="1214.3" font-size="20" fill="#fff" stroke="#fff" stroke-width="0.4" textLength="226.40" lengthAdjust="spacingAndGlyphs">Account &amp; Session storage</text>
<text x="1413.90" y="1364.0" font-size="21.5" fill="#fff" stroke="#fff" stroke-width="0.55" textLength="704.60" lengthAdjust="spacingAndGlyphs">Services and Databases are sharded for availability and scalability. Protocol</text>
<text x="1413.89" y="1391.0" font-size="21.5" fill="#fff" stroke="#fff" stroke-width="0.55" textLength="525.01" lengthAdjust="spacingAndGlyphs">messages are automatically routed to the correct shard.</text>
<g fill="none" stroke="#fff" stroke-width="6.5" stroke-linejoin="round">
<path d="M2276.8,1498.3 V1548.7 M2276.8,1529.5 A14.25,14.25 0 0 1 2305.3,1529.5 V1548.7"/>
<circle cx="2331.1" cy="1530.9" r="15.95"/><path d="M2347.05,1530.9 V1548.7"/>
<circle cx="2461.1" cy="1530.9" r="15.95"/><path d="M2477.05,1530.9 V1548.7"/>
<path d="M2358.25,1498.3 V1530.9"/><circle cx="2374.5" cy="1530.9" r="16.25"/>
<path d="M2401.3,1512.8 V1548.7"/>
<path d="M2414.05,1504.1 V1535.9 A10.85,10.85 0 0 0 2435.75,1535.9 V1533.6"/>
<path d="M2488.05,1504.1 V1535.9 A10.85,10.85 0 0 0 2509.75,1535.9 V1533.6"/>
</g>
<rect x="2398" y="1502.5" width="6.6" height="6.2" fill="#fff"/>
<polygon points="2414,1512.8 2427.2,1512.8 2431.9,1517.7 2431.9,1519.3 2414,1519.3" fill="#fff"/>
<polygon points="2488,1512.8 2501.2,1512.8 2505.9,1517.7 2505.9,1519.3 2488,1519.3" fill="#fff"/>
</svg>
</body></html>
